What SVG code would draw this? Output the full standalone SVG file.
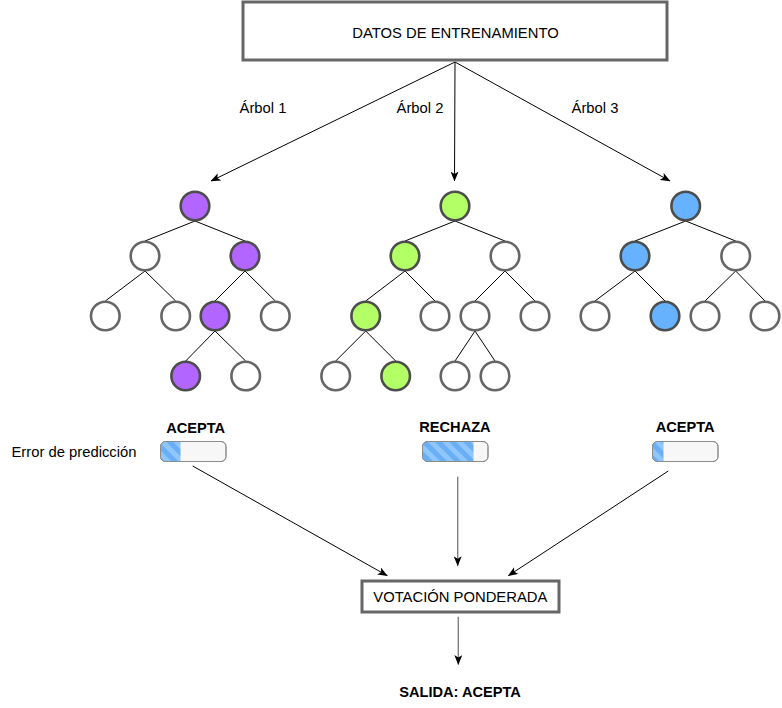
<svg xmlns="http://www.w3.org/2000/svg" width="782" height="708" viewBox="0 0 782 708">
<style>
text{font-family:"Liberation Sans",Arial,Helvetica,sans-serif;fill:#000}
.t{font-size:14.8px}
.b{font-size:14.6px;font-weight:bold}
.box{fill:#fff;stroke:#666;stroke-width:3}
.n{fill:#fff;stroke:#666;stroke-width:2.6}
.p{fill:#B266FF;stroke:#4d4d4d;stroke-width:2.6}
.g{fill:#B3FF66;stroke:#4d4d4d;stroke-width:2.6}
.u{fill:#66B2FF;stroke:#4d4d4d;stroke-width:2.6}
.e{stroke:#000;stroke-width:1;fill:none}
.a{stroke:#000;stroke-width:1;fill:none;marker-end:url(#arr)}
.ag{stroke:#808080;stroke-width:1.4;fill:none;marker-end:url(#arr)}
.bar{fill:#f7f7f7;stroke:#8c8c8c;stroke-width:1}
</style>
<defs>
<marker id="arr" viewBox="0 0 10 8" refX="9.5" refY="4" markerWidth="10" markerHeight="8" markerUnits="userSpaceOnUse" orient="auto">
<path d="M0,0 L10,4 L0,8 L2.5,4 Z" fill="#000"/>
</marker>
<pattern id="stripes" patternUnits="userSpaceOnUse" width="10" height="10" patternTransform="rotate(-45)">
<rect width="10" height="10" fill="#6aaff5"/>
<rect width="5" height="10" fill="#8fc6fb"/>
</pattern>
<clipPath id="c1"><rect x="160.5" y="441.5" width="65.5" height="20" rx="5"/></clipPath>
<clipPath id="c2"><rect x="422.5" y="441.5" width="65.5" height="20" rx="5"/></clipPath>
<clipPath id="c3"><rect x="652.5" y="441.5" width="65.5" height="20" rx="5"/></clipPath>
</defs>
<rect width="782" height="708" fill="#fff"/>

<g id="connectors">
<path class="a" d="M455,62 L211,181"/>
<path class="a" d="M455,62 L454.5,181"/>
<path class="a" d="M455,62 L670,181"/>
<path class="e" d="M195,221 L145,241 M195,221 L245,241 M145,271 L105.3,301 M145,271 L175.7,301 M245,271 L215,301 M245,271 L275.3,301 M215,331 L185.7,361 M215,331 L245.7,361"/>
<path class="e" d="M455,221 L405,241 M455,221 L505,241 M405,271 L365.7,301 M405,271 L435,301 M505,271 L475,301 M505,271 L535,301 M365.7,331 L335.7,361 M365.7,331 L395.7,361 M475,331 L455,361 M475,331 L495,361"/>
<path class="e" d="M685.7,221 L635,241 M685.7,221 L735.7,241 M635,271 L595,301 M635,271 L665,301 M735.7,271 L705,301 M735.7,271 L765,301"/>
<path class="a" d="M192.7,466 L387.3,575.7"/>
<path class="ag" d="M457.7,476.7 L457.7,565.7"/>
<path class="a" d="M668.3,471 L508.3,575.7"/>
<path class="ag" d="M458.3,616.7 L458.3,664.5"/>
</g>

<g id="datos">
<rect class="box" x="243" y="2" width="424" height="58"/>
<text class="t" x="455.5" y="37.5" text-anchor="middle">DATOS DE ENTRENAMIENTO</text>
</g>
<g id="label-arbol1"><text class="t" x="263" y="112.5" text-anchor="middle">Árbol 1</text></g>
<g id="label-arbol2"><text class="t" x="420" y="112.5" text-anchor="middle">Árbol 2</text></g>
<g id="label-arbol3"><text class="t" x="595" y="112.5" text-anchor="middle">Árbol 3</text></g>

<g id="tree1">
<circle id="t1n1" class="p" cx="195" cy="206" r="14.3"/>
<circle id="t1n2" class="n" cx="145" cy="256" r="14.3"/>
<circle id="t1n3" class="p" cx="245" cy="256" r="14.3"/>
<circle id="t1n4" class="n" cx="105.3" cy="316" r="14.3"/>
<circle id="t1n5" class="n" cx="175.7" cy="316" r="14.3"/>
<circle id="t1n6" class="p" cx="215" cy="316" r="14.3"/>
<circle id="t1n7" class="n" cx="275.3" cy="316" r="14.3"/>
<circle id="t1n8" class="p" cx="185.7" cy="376" r="14.3"/>
<circle id="t1n9" class="n" cx="245.7" cy="376" r="14.3"/>
</g>

<g id="tree2">
<circle id="t2n1" class="g" cx="455" cy="206" r="14.3"/>
<circle id="t2n2" class="g" cx="405" cy="256" r="14.3"/>
<circle id="t2n3" class="n" cx="505" cy="256" r="14.3"/>
<circle id="t2n4" class="g" cx="365.7" cy="316" r="14.3"/>
<circle id="t2n5" class="n" cx="435" cy="316" r="14.3"/>
<circle id="t2n6" class="n" cx="475" cy="316" r="14.3"/>
<circle id="t2n7" class="n" cx="535" cy="316" r="14.3"/>
<circle id="t2n8" class="n" cx="335.7" cy="376" r="14.3"/>
<circle id="t2n9" class="g" cx="395.7" cy="376" r="14.3"/>
<circle id="t2n10" class="n" cx="455" cy="376" r="14.3"/>
<circle id="t2n11" class="n" cx="495" cy="376" r="14.3"/>
</g>

<g id="tree3">
<circle id="t3n1" class="u" cx="685.7" cy="206" r="14.3"/>
<circle id="t3n2" class="u" cx="635" cy="256" r="14.3"/>
<circle id="t3n3" class="n" cx="735.7" cy="256" r="14.3"/>
<circle id="t3n4" class="n" cx="595" cy="316" r="14.3"/>
<circle id="t3n5" class="u" cx="665" cy="316" r="14.3"/>
<circle id="t3n6" class="n" cx="705" cy="316" r="14.3"/>
<circle id="t3n7" class="n" cx="765" cy="316" r="14.3"/>
</g>

<g id="error-label"><text class="t" x="11.5" y="456.5">Error de predicción</text></g>

<g id="result1">
<text class="b" x="195.7" y="432.5" text-anchor="middle">ACEPTA</text>
<rect class="bar" x="160.5" y="441.5" width="65.5" height="20" rx="5"/>
<rect clip-path="url(#c1)" x="160.5" y="441.5" width="20" height="20" fill="url(#stripes)"/>
<rect x="160.5" y="441.5" width="65.5" height="20" rx="5" fill="none" stroke="#8c8c8c" stroke-width="1"/>
</g>
<g id="result2">
<text class="b" x="455" y="431.7" text-anchor="middle">RECHAZA</text>
<rect class="bar" x="422.5" y="441.5" width="65.5" height="20" rx="5"/>
<rect clip-path="url(#c2)" x="422.5" y="441.5" width="51" height="20" fill="url(#stripes)"/>
<rect x="422.5" y="441.5" width="65.5" height="20" rx="5" fill="none" stroke="#8c8c8c" stroke-width="1"/>
</g>
<g id="result3">
<text class="b" x="685.2" y="432" text-anchor="middle">ACEPTA</text>
<rect class="bar" x="652.5" y="441.5" width="65.5" height="20" rx="5"/>
<rect clip-path="url(#c3)" x="652.5" y="441.5" width="11" height="20" fill="url(#stripes)"/>
<rect x="652.5" y="441.5" width="65.5" height="20" rx="5" fill="none" stroke="#8c8c8c" stroke-width="1"/>
</g>

<g id="votacion">
<rect class="box" x="362" y="581" width="197" height="31"/>
<text class="t" x="460.3" y="601.7" text-anchor="middle">VOTACIÓN PONDERADA</text>
</g>
<g id="salida"><text class="b" x="460" y="696.7" text-anchor="middle">SALIDA: ACEPTA</text></g>
</svg>
